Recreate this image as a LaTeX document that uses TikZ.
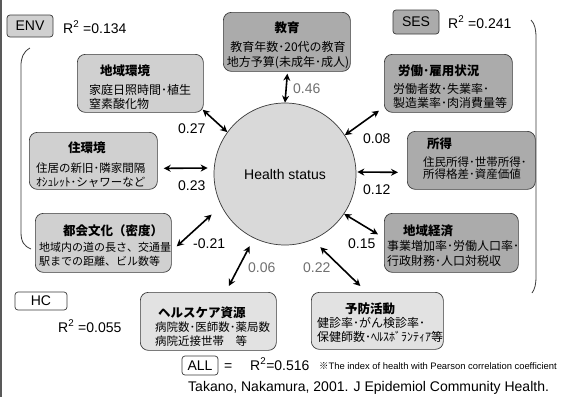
\documentclass[tikz,border=0pt]{standalone}
\usepackage{fontspec}
\setmainfont{Liberation Sans}
\newfontfamily\jp{Noto Sans CJK JP}
\usetikzlibrary{arrows.meta}
\definecolor{darkfill}{HTML}{ABABAB}
\definecolor{midfill}{HTML}{D0D0D0}
\definecolor{lightfill}{HTML}{E2E2E2}
\definecolor{circfill}{HTML}{D9D9D9}
\definecolor{edge}{HTML}{3A3A3A}
\definecolor{numgray}{HTML}{707070}
\begin{document}
\begin{tikzpicture}[x=1pt,y=-1pt,
  card/.style={draw=edge, line width=0.7pt, rounded corners=8pt, anchor=north west, inner sep=0pt},
  tagbox/.style={draw=edge, line width=0.7pt, rounded corners=3pt, inner sep=0pt, font=\fontsize{14}{16}\selectfont},
  lbl/.style={anchor=base west, inner sep=0pt, font=\fontsize{14}{16}\selectfont},
  ttl/.style={anchor=base west, inner sep=0pt, font=\jp\bfseries\fontsize{12.5}{14}\selectfont},
  bdy/.style={anchor=base west, inner sep=0pt, font=\jp\fontsize{11.5}{13}\selectfont},
  bdyl/.style={bdy, font=\jp\fontsize{12}{14}\selectfont},
  bdys/.style={bdy, font=\jp\fontsize{11}{13}\selectfont},
  dbl/.style={{Stealth[length=7pt,width=7pt]}-{Stealth[length=7pt,width=7pt]}, line width=1.6pt},
  bracket/.style={draw=edge, line width=0.8pt}]
\useasboundingbox (0,0) rectangle (561,397);
\fill[white] (0,0) rectangle (561,397);
\draw[line width=2pt, black!65] (1,0) -- (1,397);

% brackets
\draw[bracket] (30,48) .. controls (23,52) and (21,58) .. (21,66) -- (21,232) .. controls (21,242) and (24,246) .. (31,249);
\draw[bracket] (531,20) .. controls (535,24) and (536,30) .. (536,38) -- (536,276) .. controls (536,284) and (535,289) .. (532,293);

% central circle
\node[circle, draw=edge, line width=0.7pt, fill=circfill, minimum size=142pt, inner sep=0pt,
      font=\fontsize{14}{16}\selectfont] (hs) at (285,174) {Health status};

% boxes
\node[card, fill=darkfill, minimum width=127pt, minimum height=59pt] (kyoiku) at (223,12) {};
\node[card, fill=midfill, minimum width=126pt, minimum height=58pt] (chiiki) at (77,54) {};
\node[card, fill=darkfill, minimum width=128pt, minimum height=58pt] (rodo) at (384,54) {};
\node[card, fill=midfill, minimum width=128pt, minimum height=57pt] (jukankyo) at (29,132) {};
\node[card, fill=darkfill, minimum width=128pt, minimum height=58pt] (shotoku) at (407,131) {};
\node[card, fill=midfill, minimum width=136pt, minimum height=59pt] (toshi) at (35,213) {};
\node[card, fill=darkfill, minimum width=134pt, minimum height=59pt] (keizai) at (384,213) {};
\node[card, fill=lightfill, minimum width=136pt, minimum height=58pt] (hc) at (140,292) {};
\node[card, fill=lightfill, minimum width=132pt, minimum height=57pt] (yobo) at (311,292) {};

% box texts
\node[ttl, anchor=base] (t1) at (287,32) {教育};
\node[bdyl, anchor=base] (b1a) at (288,51) {教育年数･20代の教育};
\node[bdyl, anchor=base] (b1b) at (288,66) {地方予算(未成年･成人)};

\node[ttl] (t2) at (100,75) {地域環境};
\node[bdyl] (b2a) at (89,94) {家庭日照時間･植生};
\node[bdyl] (b2b) at (89,108) {窒素酸化物};

\node[ttl] (t3) at (398,75) {労働･雇用状況};
\node[bdyl] (b3a) at (393,93) {労働者数･失業率･};
\node[bdyl] (b3b) at (393,107) {製造業率･肉消費量等};

\node[ttl] (t4) at (68,152) {住環境};
\node[bdy] (b4a) at (36,172) {住居の新旧･隣家間隔};
\node[bdy] (b4b) at (36,186) {ｵｼｭﾚｯﾄ･シャワーなど};

\node[ttl] (t5) at (427,148) {所得};
\node[bdy] (b5a) at (423,166) {住民所得･世帯所得･};
\node[bdy] (b5b) at (423,178) {所得格差･資産価値};

\node[ttl] (t6) at (63,235) {都会文化（密度）};
\node[bdys] (b6a) at (39,251) {地域内の道の長さ、交通量};
\node[bdys] (b6b) at (39,265) {駅までの距離、ビル数等};

\node[ttl] (t7) at (403,235) {地域経済};
\node[bdyl] (b7a) at (387,250) {事業増加率･労働人口率･};
\node[bdyl] (b7b) at (387,265) {行政財務･人口対税収};

\node[ttl] (t8) at (158,317) {ヘルスケア資源};
\node[bdy] (b8a) at (155,331) {病院数･医師数･薬局数};
\node[bdy] (b8b) at (155,345) {病院近接世帯　等};

\node[ttl] (t9) at (345,313) {予防活動};
\node[bdyl] (b9a) at (317,327) {健診率･がん検診率･};
\node[bdyl] (b9b) at (317,341) {保健師数･ﾍﾙｽﾎﾞﾗﾝﾃｨｱ等};

% group tags
\node[tagbox, fill=midfill, minimum width=46pt, minimum height=22pt] (env) at (30,26) {ENV};
\node[tagbox, fill=darkfill, minimum width=46pt, minimum height=24pt] (ses) at (416,22) {SES};
\node[tagbox, fill=white, minimum width=52pt, minimum height=18pt] (hctag) at (41,301) {HC};
\node[tagbox, fill=white, minimum width=36pt, minimum height=19pt] (all) at (200,365.5) {ALL};

\node[lbl] (r1) at (63,33) {R\textsuperscript{2} =0.134};
\node[lbl] (r2) at (448,28) {R\textsuperscript{2} =0.241};
\node[lbl] (r3) at (58,332) {R\textsuperscript{2} =0.055};
\node[lbl] (eq) at (224,370) {=};
\node[lbl] (r4) at (250,370) {R\textsuperscript{2}=0.516};
\node[anchor=base west, inner sep=0pt, font=\fontsize{9.4}{11}\selectfont] (note) at (319,369) {{\jp ※}The index of health with Pearson correlation coefficient};
\node[lbl] (cite) at (188,391) {Takano, Nakamura, 2001. J Epidemiol Community Health.};

% arrows
\draw[dbl] ([xshift=0.5pt,yshift=-2pt]kyoiku.south) -- (hs.north);
\draw[dbl] ([xshift=-1pt,yshift=3pt]chiiki.south east) -- (hs.144);
\draw[dbl] ([xshift=-5pt,yshift=2pt]rodo.south west) -- (hs.33);
\draw[dbl] ([xshift=6pt,yshift=-7.5pt]jukankyo.east) -- ([xshift=-6pt,yshift=6pt]hs.west);
\draw[dbl] ([xshift=-9pt,yshift=-12pt]shotoku.west) -- ([xshift=1pt,yshift=2pt]hs.east);
\draw[dbl] ([xshift=5pt,yshift=-3.5pt]toshi.east) -- ([xshift=-11pt,yshift=-6pt]hs.209);
\draw[dbl] (hs.-34) -- ([xshift=-6pt,yshift=8.5pt]keizai.west);
\draw[dbl] ([xshift=20.5pt,yshift=6pt]hc.north) -- ([xshift=-4pt,yshift=-8pt]hs.244);
\draw[dbl] ([xshift=4pt,yshift=-9pt]hs.-64) -- ([xshift=-17pt,yshift=6pt]yobo.north);

% coefficients
\node[lbl, text=numgray] (c1) at (293,93) {0.46};
\node[lbl] (c2) at (178,133) {0.27};
\node[lbl] (c3) at (363,143) {0.08};
\node[lbl] (c4) at (178,190) {0.23};
\node[lbl] (c5) at (363,194) {0.12};
\node[lbl] (c6) at (193,248) {-0.21};
\node[lbl] (c7) at (348,248) {0.15};
\node[lbl, text=numgray] (c8) at (248,272) {0.06};
\node[lbl, text=numgray] (c9) at (303,272) {0.22};
\end{tikzpicture}
\end{document}
